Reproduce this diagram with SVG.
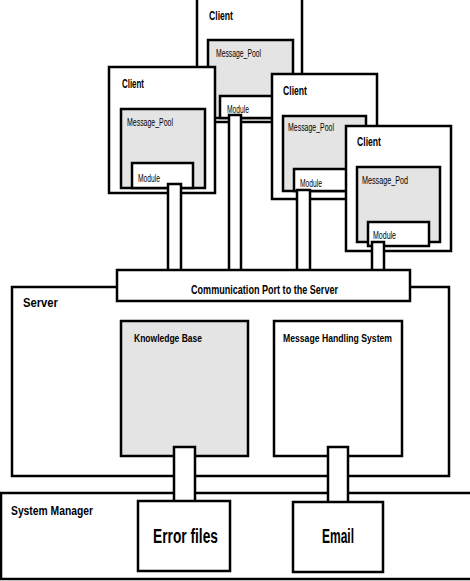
<svg xmlns="http://www.w3.org/2000/svg" width="470" height="581" viewBox="0 0 470 581">
<style>
  .box{fill:#ffffff;stroke:#000;stroke-width:2.5}
  .pool{fill:#e4e4e4;stroke:#000;stroke-width:2.5}
  .conn{fill:#ffffff;stroke:#000;stroke-width:2.5}
  text{font-family:"Liberation Sans","DejaVu Sans",sans-serif;fill:#000;font-weight:bold}
  .t12{font-size:12px}
  .t10{font-size:10px;font-weight:normal}
  .t10b{font-size:10.5px}
  .t20{font-size:20px}
</style>
<rect x="0" y="0" width="470" height="581" fill="#ffffff"/>

<g id="client-top">
  <rect class="box" x="197" y="-5" width="105" height="127"/>
  <text class="t12" x="209" y="20" textLength="24" lengthAdjust="spacingAndGlyphs">Client</text>
  <rect class="pool" x="208" y="40" width="85" height="78"/>
  <text class="t10" x="216" y="57" textLength="45" lengthAdjust="spacingAndGlyphs">Message_Pool</text>
  <rect class="box" x="220" y="96" width="58" height="22"/>
  <text class="t10" x="227" y="113" textLength="22" lengthAdjust="spacingAndGlyphs">Module</text>
</g>

<g id="client-left">
  <rect class="box" x="109" y="67" width="106" height="126"/>
  <text class="t12" x="122" y="88" textLength="22" lengthAdjust="spacingAndGlyphs">Client</text>
  <rect class="pool" x="121" y="109" width="84" height="79"/>
  <text class="t10" x="127" y="126" textLength="46" lengthAdjust="spacingAndGlyphs">Message_Pool</text>
  <rect class="box" x="132" y="163" width="61" height="25"/>
  <text class="t10" x="138" y="182" textLength="22" lengthAdjust="spacingAndGlyphs">Module</text>
</g>

<g id="client-mid">
  <rect class="box" x="272" y="74" width="105" height="125"/>
  <text class="t12" x="283" y="95" textLength="24" lengthAdjust="spacingAndGlyphs">Client</text>
  <rect class="pool" x="283" y="116" width="83" height="75"/>
  <text class="t10" x="288" y="131" textLength="46" lengthAdjust="spacingAndGlyphs">Message_Pool</text>
  <rect class="box" x="294" y="169" width="58" height="22"/>
  <text class="t10" x="300" y="187" textLength="22" lengthAdjust="spacingAndGlyphs">Module</text>
</g>

<g id="client-right">
  <rect class="box" x="346" y="126" width="105" height="125"/>
  <text class="t12" x="357" y="146" textLength="24" lengthAdjust="spacingAndGlyphs">Client</text>
  <rect class="pool" x="357" y="167" width="83" height="75"/>
  <text class="t10" x="362" y="184" textLength="46" lengthAdjust="spacingAndGlyphs">Message_Pod</text>
  <rect class="box" x="368" y="222" width="61" height="24"/>
  <text class="t10" x="373" y="239" textLength="23" lengthAdjust="spacingAndGlyphs">Module</text>
</g>

<g id="server">
  <rect class="box" x="12" y="287" width="437" height="189"/>
  <text class="t12" x="23" y="307" textLength="35" lengthAdjust="spacingAndGlyphs">Server</text>
</g>

<g id="knowledge-base">
  <rect class="pool" x="121" y="321" width="127" height="135"/>
  <text class="t10b" x="134" y="342" textLength="68" lengthAdjust="spacingAndGlyphs">Knowledge Base</text>
</g>

<g id="message-handling">
  <rect class="box" x="274" y="321" width="128" height="135"/>
  <text class="t10b" x="283" y="342" textLength="109" lengthAdjust="spacingAndGlyphs">Message Handling System</text>
</g>

<g id="system-manager">
  <rect class="box" x="1" y="493" width="475" height="86"/>
  <text class="t12" x="11" y="515" textLength="82" lengthAdjust="spacingAndGlyphs">System Manager</text>
</g>

<g id="connectors">
  <rect class="conn" x="229" y="115" width="12" height="165"/>
  <rect class="conn" x="168" y="184" width="13" height="96"/>
  <rect class="conn" x="297" y="190" width="13" height="90"/>
  <rect class="conn" x="372" y="242" width="12" height="38"/>
  <rect class="conn" x="174" y="447" width="21" height="60"/>
  <rect class="conn" x="328" y="447" width="20" height="60"/>
</g>

<g id="comm-port">
  <rect class="box" x="117" y="270" width="293" height="31"/>
  <text class="t12" x="191" y="294" textLength="147" lengthAdjust="spacingAndGlyphs">Communication Port to the Server</text>
</g>

<g id="error-files">
  <rect class="box" x="138" y="501" width="92" height="70"/>
  <text class="t20" x="153" y="543" textLength="65" lengthAdjust="spacingAndGlyphs">Error files</text>
</g>

<g id="email">
  <rect class="box" x="293" y="502" width="90" height="70"/>
  <text class="t20" x="322" y="543" textLength="32" lengthAdjust="spacingAndGlyphs">Email</text>
</g>
</svg>
